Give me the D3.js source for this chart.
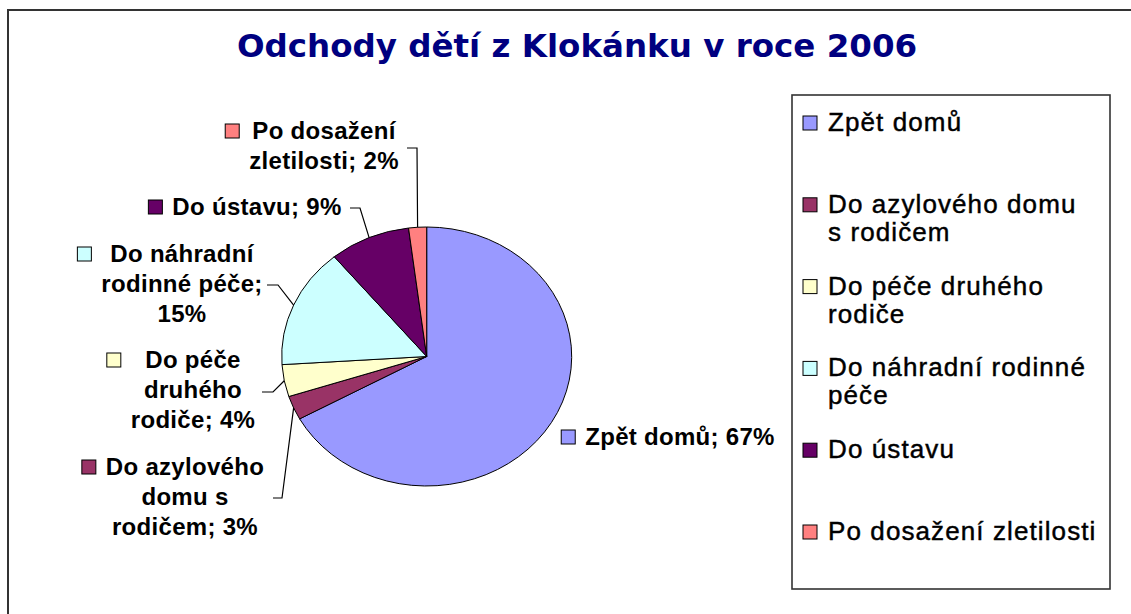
<!DOCTYPE html>
<html>
<head>
<meta charset="utf-8">
<script src="https://cdn.jsdelivr.net/npm/d3@7"></script>
<style>
  html, body { margin: 0; padding: 0; background: #fff; overflow: hidden; }
  svg { display: block; }
  .title { font-family: "DejaVu Sans", Verdana, sans-serif; font-weight: bold; font-size: 32.5px; fill: #000080; }
  .lbl { font-family: "Liberation Sans", Arial, sans-serif; font-weight: bold; font-size: 24px; letter-spacing: 0.3px; fill: #000; }
  .leg { font-family: "Liberation Sans", Arial, sans-serif; font-size: 26px; letter-spacing: 1.1px; fill: #000; stroke: #000; stroke-width: 0.45px; }
</style>
</head>
<body>
<svg id="chart" width="1131" height="614"></svg>
<script>
// data
const categories = ['Zpět domů', 'Do azylového domu s rodičem', 'Do péče druhého rodiče',
    'Do náhradní rodinné péče', 'Do ústavu', 'Po dosažení zletilosti'];
const values = [67, 3, 4, 15, 9, 2];
const colors = ['#9999FF', '#993366', '#FFFFCC', '#CCFFFF', '#660066', '#FF8080'];

// data label text (wrapped as in the chart)
const labelLines = [
    ['Zpět domů; 67%'],
    ['Do azylového', 'domu s', 'rodičem; 3%'],
    ['Do péče', 'druhého', 'rodiče; 4%'],
    ['Do náhradní', 'rodinné péče;', '15%'],
    ['Do ústavu; 9%'],
    ['Po dosažení', 'zletilosti; 2%']
];
// legend text (wrapped)
const legendLines = [
    ['Zpět domů'],
    ['Do azylového domu', 's rodičem'],
    ['Do péče druhého', 'rodiče'],
    ['Do náhradní rodinné', 'péče'],
    ['Do ústavu'],
    ['Po dosažení zletilosti']
];

// layout
const cx = 426.7, cy = 356.5, rx = 145, ry = 129.5;
// label block: center x, first baseline, leader start [x, y, elbow x] or null
const labelLayout = [
    { x: 680, y: 445, lead: null },
    { x: 185, y: 475, lead: [273, 498, 282] },
    { x: 193, y: 368, lead: [262, 392, 273] },
    { x: 182, y: 262, lead: [267, 285, 278] },
    { x: 257, y: 215, lead: [350, 208, 360] },
    { x: 324, y: 139, lead: [407, 148, 417] }
];

const svg = d3.select('#chart');

// outer chart frame (runs off the right and bottom edges)
svg.append('rect')
    .attr('x', 8).attr('y', 10)
    .attr('width', 1140).attr('height', 620)
    .attr('fill', '#fff')
    .attr('stroke', '#333').attr('stroke-width', 2);

// title
svg.append('text')
    .attr('class', 'title')
    .attr('x', 577).attr('y', 57)
    .attr('text-anchor', 'middle')
    .text('Odchody dětí z Klokánku v roce 2006');

// pie
const pie = d3.pie().sort(null).value(d => d);
const arcs = pie(values);
const arc = d3.arc().innerRadius(0).outerRadius(rx);
const edge = d3.arc().innerRadius(rx).outerRadius(rx);

const pieG = svg.append('g')
    .attr('transform', `translate(${cx},${cy}) scale(1,${ry / rx})`);

pieG.selectAll('path')
    .data(arcs)
    .enter()
    .append('path')
    .attr('d', arc)
    .attr('fill', (d, i) => colors[i])
    .attr('stroke', '#000')
    .attr('stroke-width', 1)
    .attr('vector-effect', 'non-scaling-stroke');

// data labels
const labelG = svg.append('g');
arcs.forEach((a, i) => {
    const lay = labelLayout[i];
    const g = labelG.append('g');
    const texts = labelLines[i].map((line, k) =>
        g.append('text')
            .attr('class', 'lbl')
            .attr('x', lay.x)
            .attr('y', lay.y + k * 30)
            .attr('text-anchor', 'middle')
            .text(line)
    );
    const w = d3.max(texts, t => t.node().getComputedTextLength());
    g.append('rect')
        .attr('x', lay.x - w / 2 - 24)
        .attr('y', lay.y - 15)
        .attr('width', 14).attr('height', 14)
        .attr('fill', colors[i])
        .attr('stroke', '#000').attr('stroke-width', 1);

    if (lay.lead) {
        const c = edge.centroid(a);
        const ex = cx + c[0], ey = cy + c[1] * ry / rx;
        g.append('path')
            .attr('d', `M${lay.lead[0]},${lay.lead[1]}H${lay.lead[2]}L${ex},${ey}`)
            .attr('fill', 'none')
            .attr('stroke', '#000')
            .attr('stroke-width', 1.2);
    }
});

// legend
const legX = 792, legY = 95, legW = 318, legH = 494;
const legend = svg.append('g');
legend.append('rect')
    .attr('x', legX).attr('y', legY)
    .attr('width', legW).attr('height', legH)
    .attr('fill', '#fff')
    .attr('stroke', '#333').attr('stroke-width', 1.6);

const rowY = d3.scaleLinear().domain([0, categories.length - 1]).range([131, 540]);
categories.forEach((c, i) => {
    const y0 = rowY(i);
    legend.append('rect')
        .attr('x', 803).attr('y', y0 - 15)
        .attr('width', 14).attr('height', 14)
        .attr('fill', colors[i])
        .attr('stroke', '#000').attr('stroke-width', 1);
    legendLines[i].forEach((line, k) => {
        legend.append('text')
            .attr('class', 'leg')
            .attr('x', 828)
            .attr('y', y0 + k * 28)
            .text(line);
    });
});
</script>
</body>
</html>
